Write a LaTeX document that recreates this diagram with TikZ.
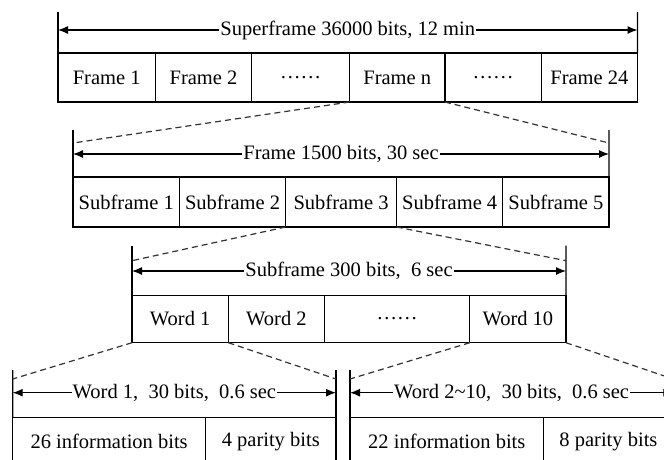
\documentclass[tikz,border=0pt]{standalone}
\usepackage{fontspec}
\setmainfont{Liberation Serif}
\usetikzlibrary{arrows.meta}
\tikzset{
  cell/.style={draw, line width=1.2pt, rectangle, inner sep=0pt, outer sep=0pt, font=\fontsize{20.5}{24}\selectfont},
  lbl/.style={fill=white, inner sep=1pt, font=\fontsize{20.5}{24}\selectfont},
  side/.style={line width=1.2pt},
  dim/.style={line width=1.2pt, -{Latex[length=10pt,width=8pt]}},
  zoomline/.style={line width=1.2pt, dashed, dash pattern=on 6pt off 4pt, gray!40!black}
}
\begin{document}
\begin{tikzpicture}[x=1pt,y=-1pt]
\clip (0,0) rectangle (664,459);
\fill[white] (0,0) rectangle (664,459);

% ---------- Block A: Superframe ----------
\coordinate (AtL) at (58,12);
\coordinate (AtR) at (637.5,12);
\coordinate (AaL) at (58,30);
\coordinate (AaR) at (637.5,30);
\node[cell, minimum width=97.3pt, minimum height=49pt] (a1) at (106.65,77.5) {Frame 1};
\node[cell, minimum width=96.4pt, minimum height=49pt] (a2) at (203.5,77.5) {Frame 2};
\node[cell, minimum width=97.9pt, minimum height=49pt] (a3) at (300.65,77.5) {……};
\node[cell, minimum width=95.3pt, minimum height=49pt] (a4) at (397.25,77.5) {Frame n};
\node[cell, minimum width=96.4pt, minimum height=49pt] (a5) at (493.1,77.5) {……};
\node[cell, minimum width=96.2pt, minimum height=49pt] (a6) at (589.4,77.5) {Frame 24};
\draw[side] (AtL) -- (a1.north west);
\draw[side] (AtR) -- (a6.north east);
\node[lbl] (la) at (347.75,30) {Superframe 36000 bits, 12 min};
\draw[dim] (la.west) -- (AaL);
\draw[dim] (la.east) -- (AaR);

% ---------- Block B: Frame ----------
\coordinate (BtL) at (73,130);
\coordinate (BtR) at (609,130);
\coordinate (BaL) at (73,154);
\coordinate (BaR) at (609,154);
\coordinate (BdL) at (73,143);
\coordinate (BdR) at (609,143);
\node[cell, minimum width=106.5pt, minimum height=50pt] (b1) at (126.25,202) {Subframe 1};
\node[cell, minimum width=106.1pt, minimum height=50pt] (b2) at (232.55,202) {Subframe 2};
\node[cell, minimum width=111pt, minimum height=50pt] (b3) at (341.1,202) {Subframe 3};
\node[cell, minimum width=106.2pt, minimum height=50pt] (b4) at (449.7,202) {Subframe 4};
\node[cell, minimum width=106.2pt, minimum height=50pt] (b5) at (555.9,202) {Subframe 5};
\draw[side] (BtL) -- (b1.north west);
\draw[side] (BtR) -- (b5.north east);
\node[lbl] (lb) at (341,154) {Frame 1500 bits, 30 sec};
\draw[dim] (lb.west) -- (BaL);
\draw[dim] (lb.east) -- (BaR);
\draw[zoomline] (a4.south west) -- (BdL);
\draw[zoomline] (a4.south east) -- (BdR);

% ---------- Block C: Subframe ----------
\coordinate (CtL) at (132,245.7);
\coordinate (CtR) at (566,245.7);
\coordinate (CaL) at (132,271);
\coordinate (CaR) at (566,271);
\coordinate (CdL) at (132,260.7);
\coordinate (CdR) at (566,260.7);
\node[cell, minimum width=96.4pt, minimum height=47.4pt] (c1) at (180.2,319) {Word 1};
\node[cell, minimum width=96.1pt, minimum height=47.4pt] (c2) at (276.45,319) {Word 2};
\node[cell, minimum width=145.3pt, minimum height=47.4pt] (c3) at (397.15,319) {……};
\node[cell, minimum width=96.2pt, minimum height=47.4pt] (c4) at (517.9,319) {Word 10};
\draw[side] (CtL) -- (c1.north west);
\draw[side] (CtR) -- (c4.north east);
\node[lbl] (lc) at (349,271) {Subframe 300 bits,\ \ 6 sec};
\draw[dim] (lc.west) -- (CaL);
\draw[dim] (lc.east) -- (CaR);
\draw[zoomline] (b3.south west) -- (CdL);
\draw[zoomline] (b3.south east) -- (CdR);

% ---------- Block D1: Word 1 ----------
\coordinate (DtL) at (12.7,370);
\coordinate (DtR) at (336,370);
\coordinate (DaL) at (12.7,392.7);
\coordinate (DaR) at (336,392.7);
\coordinate (DdL) at (12.7,379);
\coordinate (DdR) at (336,379);
\node[cell, minimum width=192.8pt, minimum height=48.7pt] (d1) at (109.1,441.65) {26 information bits};
\node[cell, minimum width=130.5pt, minimum height=48.7pt] (d2) at (270.75,441.65) {4 parity bits};
\draw[side] (DtL) -- (d1.north west);
\draw[side] (DtR) -- (d2.north east);
\node[lbl] (ld) at (174.4,392.7) {Word 1,\ \ 30 bits,\ \ 0.6 sec};
\draw[dim] (ld.west) -- (DaL);
\draw[dim] (ld.east) -- (DaR);
\draw[zoomline] (c1.south west) -- (DdL);
\draw[zoomline] (c1.south east) -- (DdR);

% ---------- Block D2: Word 2~10 ----------
\coordinate (EtL) at (350,370);
\coordinate (EtR) at (673.3,370);
\coordinate (EaL) at (350,392.7);
\coordinate (EaR) at (673.3,392.7);
\coordinate (EdL) at (350,379);
\coordinate (EdR) at (673.3,379);
\node[cell, minimum width=193.6pt, minimum height=48.7pt] (e1) at (446.8,441.65) {22 information bits};
\node[cell, minimum width=129.7pt, minimum height=48.7pt] (e2) at (608.45,441.65) {8 parity bits};
\draw[side] (EtL) -- (e1.north west);
\draw[side] (EtR) -- (e2.north east);
\node[lbl] (le) at (511.6,392.7) {Word 2\textasciitilde10,\ \ 30 bits,\ \ 0.6 sec};
\draw[dim] (le.west) -- (EaL);
\draw[dim] (le.east) -- (EaR);
\draw[zoomline] (c4.south west) -- (EdL);
\draw[zoomline] (c4.south east) -- (EdR);
\end{tikzpicture}
\end{document}
